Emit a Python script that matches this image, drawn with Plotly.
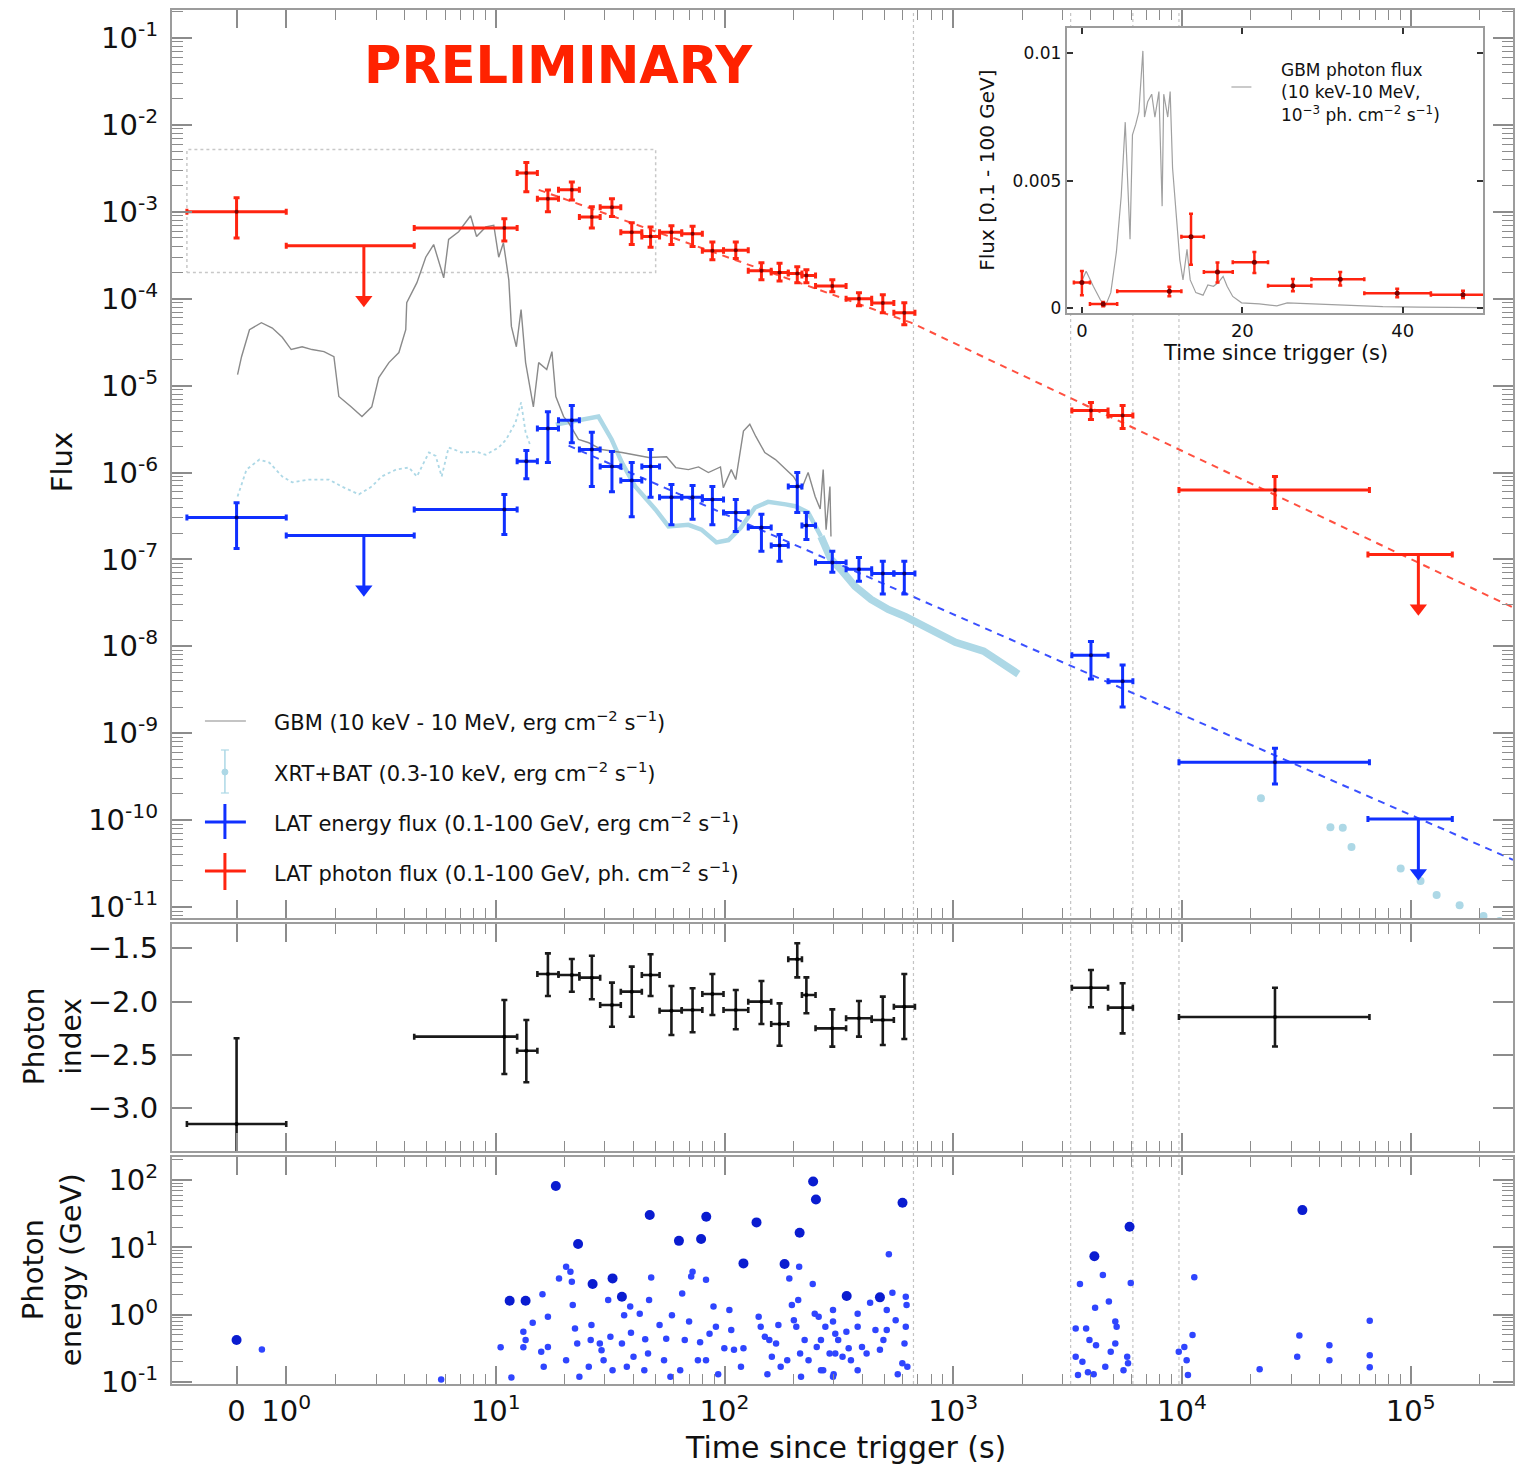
import numpy as np
import plotly.graph_objects as go

# ---------------------------------------------------------------------------
# LAT binned light curve: bin centres and edges (s since trigger)
# ---------------------------------------------------------------------------
lat_t   = [0, 10.9, 13.6, 16.9, 21.5, 26.3, 32.2, 39.3, 47.5, 58.6,
           72.5, 88.5, 112, 145, 174, 208, 228, 296, 387, 492,
           611, 4000, 5500, 25500]
lat_tlo = [-1, 4.4, 12.4, 15.2, 18.8, 23.2, 28.6, 35.2, 43.5, 52,
           65, 80, 99, 127, 160, 190, 218, 250, 340, 440,
           550, 3300, 4750, 9700]
lat_thi = [1, 12.4, 15.2, 18.8, 23.2, 28.6, 35.2, 43.5, 52, 65,
           80, 99, 127, 160, 190, 218, 250, 340, 440, 550,
           680, 4750, 6100, 66000]

# LAT photon flux (0.1-100 GeV, ph cm^-2 s^-1)
ph_flux = [1.0e-3, 6.5e-4, 2.8e-3, 1.41e-3, 1.79e-3, 8.7e-4, 1.13e-3, 5.8e-4, 5.2e-4, 5.8e-4,
           5.6e-4, 3.56e-4, 3.6e-4, 2.1e-4, 2.0e-4, 1.95e-4, 1.85e-4, 1.4e-4, 1.0e-4, 8.9e-5,
           6.9e-5, 5.16e-6, 4.52e-6, 6.3e-7]
ph_lo   = [5.0e-4, 4.6e-4, 1.7e-3, 1.0e-3, 1.37e-3, 6.5e-4, 8.8e-4, 4.2e-4, 3.9e-4, 4.2e-4,
           4.0e-4, 2.8e-4, 2.9e-4, 1.65e-4, 1.6e-4, 1.53e-4, 1.53e-4, 1.2e-4, 8.3e-5, 6.9e-5,
           5.0e-5, 4.07e-6, 3.2e-6, 3.86e-7]
ph_hi   = [1.45e-3, 8.3e-4, 3.7e-3, 1.78e-3, 2.2e-3, 1.14e-3, 1.41e-3, 7.5e-4, 6.7e-4, 6.9e-4,
           6.8e-4, 4.5e-4, 4.5e-4, 2.6e-4, 2.55e-4, 2.33e-4, 2.15e-4, 1.65e-4, 1.17e-4, 1.11e-4,
           9.0e-5, 6.4e-6, 5.9e-6, 9.0e-7]

# LAT energy flux (0.1-100 GeV, erg cm^-2 s^-1)
en_flux = [3.04e-7, 3.76e-7, 1.35e-6, 3.2e-6, 4.0e-6, 1.84e-6, 1.17e-6, 8.1e-7, 1.17e-6, 5.2e-7,
           5.2e-7, 4.9e-7, 3.47e-7, 2.33e-7, 1.45e-7, 6.9e-7, 2.46e-7, 9.2e-8, 7.7e-8, 6.9e-8,
           6.9e-8, 7.9e-9, 3.96e-9, 4.65e-10]
en_lo   = [1.34e-7, 1.94e-7, 8.5e-7, 1.3e-6, 2.2e-6, 6.9e-7, 6.0e-7, 3.1e-7, 5.2e-7, 2.5e-7,
           2.9e-7, 2.5e-7, 2.1e-7, 1.24e-7, 9.5e-8, 3.47e-7, 1.7e-7, 7.1e-8, 5.6e-8, 4.0e-8,
           4.0e-8, 4.2e-9, 2.0e-9, 2.6e-10]
en_hi   = [4.5e-7, 5.6e-7, 1.79e-6, 5.0e-6, 5.9e-6, 2.9e-6, 1.74e-6, 1.3e-6, 1.84e-6, 7.3e-7,
           7.1e-7, 6.9e-7, 4.9e-7, 3.3e-7, 1.94e-7, 1.0e-6, 3.47e-7, 1.24e-7, 1.05e-7, 9.5e-8,
           9.5e-8, 1.14e-8, 6.1e-9, 6.7e-10]

# Photon index per bin
ph_index = [-3.147, -2.328, -2.46, -1.741, -1.75, -1.775, -2.031, -1.906, -1.75, -2.085,
            -2.078, -1.928, -2.078, -2.0, -2.21, -1.603, -1.938, -2.25, -2.156, -2.172,
            -2.047, -1.869, -2.056, -2.144]
idx_lo   = [-3.95, -2.678, -2.756, -1.947, -1.907, -1.978, -2.235, -2.141, -1.947, -2.312,
            -2.287, -2.125, -2.259, -2.21, -2.413, -1.772, -2.109, -2.422, -2.328, -2.406,
            -2.35, -2.053, -2.297, -2.42]
idx_hi   = [-2.343, -1.985, -2.172, -1.547, -1.60, -1.569, -1.822, -1.672, -1.556, -1.853,
            -1.875, -1.741, -1.891, -1.806, -2.016, -1.453, -1.772, -2.072, -1.994, -1.953,
            -1.741, -1.703, -1.828, -1.87]

# Upper-limit bins
ul_t      = [2.65, 108000]
ul_tlo    = [1, 65000]
ul_thi    = [4.4, 152000]
ul_ph     = [4.06e-4, 1.14e-7]
ul_en     = [1.89e-7, 1.03e-10]

# Power-law decay guides (read at their end points)
ph_fit_t = [15.4, 654, 2.8e5]
ph_fit_f = [1.79e-3, 5.3e-5, 2.8e-8]
en_fit_t = [20.8, 2.8e5]
en_fit_f = [2.04e-6, 3.5e-11]

# GBM energy flux (10 keV - 10 MeV)
gbm_t = [0.02, 0.1, 0.26, 0.5, 0.72, 0.92, 1.1, 1.32, 1.52, 1.76,
         1.96, 2.06, 2.33, 2.6, 2.87, 3.08, 3.41, 3.77, 4.04, 4.08,
         4.52, 4.94, 5.35, 5.92, 6.22, 6.88, 7.76, 8.24, 9.04, 9.8,
         10.3, 10.8, 11.4, 11.7, 12.3, 12.9, 13.5, 14.6, 15.4, 16.7,
         17.6, 18.3, 19.8, 20.8, 23.0, 25.5, 29.0, 35.6, 46.6, 55.8,
         61.2, 69.5, 77, 85, 96, 98.8, 107, 112, 121, 129,
         137, 150, 167, 185, 200, 217, 232, 249, 262, 270,
         278, 289, 292]
gbm_f = [1.34e-5, 2.15e-5, 4.4e-5, 5.3e-5, 4.6e-5, 3.6e-5, 2.6e-5, 2.8e-5, 2.6e-5, 2.46e-5,
         2.15e-5, 7.5e-6, 5.7e-6, 4.4e-6, 5.7e-6, 1.24e-5, 1.84e-5, 2.4e-5, 4.4e-5, 9.0e-5,
         1.53e-4, 3.0e-4, 4.2e-4, 1.74e-4, 4.8e-4, 5.9e-4, 9.0e-4, 5.2e-4, 6.7e-4, 7.0e-4,
         3.0e-4, 4.4e-4, 1.65e-4, 4.8e-5, 2.8e-5, 7.5e-5, 1.84e-5, 5.7e-6, 1.84e-5, 1.53e-5,
         2.46e-5, 7.5e-6, 4.4e-6, 3.76e-6, 2.4e-6, 2.2e-6, 1.84e-6, 1.7e-6, 1.49e-6, 1.52e-6,
         1.14e-6, 1.08e-6, 1.16e-6, 1.0e-6, 1.16e-6, 6.7e-7, 1.08e-6, 8.3e-7, 3.0e-6, 3.6e-6,
         2.6e-6, 1.7e-6, 1.41e-6, 1.08e-6, 9.0e-7, 6.4e-7, 1.0e-6, 5.3e-7, 3.8e-7, 1.08e-6,
         2.2e-7, 6.9e-7, 1.84e-7]

# BAT early emission and XRT decay (0.3-10 keV)
bat_t = [0.02, 0.1, 0.2, 0.46, 0.66, 0.92, 1.12, 1.46, 1.86, 2.12,
         2.52, 2.87, 3.17, 3.66, 4.17, 4.52, 5.1, 5.46, 5.8, 6.22,
         7.1, 8.2, 9.04, 10.3, 11.1, 12.2, 12.9, 13.5, 14.2]
bat_f = [5.3e-7, 7.3e-7, 1.08e-6, 1.41e-6, 1.3e-6, 9.0e-7, 7.7e-7, 8.3e-7, 8.3e-7, 6.9e-7,
         5.6e-7, 6.9e-7, 9.0e-7, 1.08e-6, 1.14e-6, 9.0e-7, 1.7e-6, 1.55e-6, 9.0e-7, 1.94e-6,
         1.7e-6, 1.74e-6, 1.6e-6, 1.94e-6, 2.4e-6, 3.76e-6, 6.4e-6, 2.9e-6, 2.0e-6]
xrt_t = [18.3, 28.1, 32.1, 35.6, 40.7, 49.9, 56.9, 69.5, 79.3, 92.2,
         104, 118, 136, 155, 185, 204, 232, 264]
xrt_f = [3.56e-6, 4.4e-6, 2.4e-6, 1.3e-6, 6.9e-7, 3.76e-7, 2.4e-7, 2.5e-7, 2.2e-7, 1.57e-7,
         1.67e-7, 2.33e-7, 3.96e-7, 4.6e-7, 4.3e-7, 4.1e-7, 3.47e-7, 1.84e-7]
xrt_dense_t = [264, 292, 322, 372, 437, 520, 618, 726, 864, 1022, 1358, 1926]
xrt_dense_f = [1.84e-7, 1.0e-7, 7.7e-8, 4.9e-8, 3.47e-8, 2.66e-8, 2.2e-8, 1.79e-8, 1.37e-8,
               1.11e-8, 8.8e-9, 4.8e-9]
xrt_late_t = [22140, 44560, 50460, 55080, 90380, 110400, 129800, 163600, 208000, 244600]
xrt_late_f = [1.79e-10, 8.3e-11, 8.2e-11, 4.9e-11, 2.77e-11, 2.0e-11, 1.38e-11, 1.05e-11, 7.9e-12, 6.9e-12]

# Individual LAT photons: arrival time (s) and energy (GeV)
hi_prob_t = [0, 11.5, 13.5, 18.3, 22.9, 26.5, 32.4, 35.6, 47.1, 63.2,
             79, 83.2, 121, 138, 183, 213, 244, 251, 342, 478,
             600, 4140, 5900, 33600]
hi_prob_e = [0.42, 1.61, 1.61, 81.5, 11.2, 2.85, 3.46, 1.85, 30.2, 12.5,
             13.3, 28.5, 5.78, 23.5, 5.65, 16.5, 95, 51.6, 1.89, 1.81,
             46, 7.4, 20.2, 35.8]
photon_t = [0.51, 5.77, 10.5, 11.7, 13.2, 13.2, 13.5, 14.5, 16.0, 15.8,
            16.2, 16.9, 16.9, 18.9, 20.3, 21.2, 21.5, 21.7, 22.2, 22.7,
            20.3, 23.2, 26.2, 26.0, 25.5, 28.5, 29.0, 29.6, 31.0, 31.7,
            32.4, 35.6, 37.4, 38.7, 39.0, 36.4, 40.0, 42.6, 45.0, 46.3,
            47.8, 46.8, 44.6, 52, 55.6, 54.4, 58.9, 58, 65.3, 64,
            67, 70, 72.5, 71.5, 76.5, 78.2, 83, 83, 86, 89.5,
            91.7, 93.8, 99.8, 105, 107, 110, 118, 121, 141, 144,
            150, 157, 161, 154, 168, 172, 176, 188, 192, 197,
            201, 206, 210, 212, 214, 216, 224, 233, 243, 248,
            253, 264, 276, 288, 300, 314, 328, 258, 264, 270,
            298, 298, 305, 305, 298, 341, 349, 357, 382, 382,
            399, 382, 418, 433, 457, 478, 495, 512, 512, 523,
            542, 560, 572, 599, 612, 620, 620, 630, 625, 3430,
            3580, 3430, 3670, 3510, 3810, 3940, 3880, 4110, 4170, 4210,
            4510, 4790, 4620, 4880, 5110, 5180, 5110, 5550, 5760, 5810,
            5970, 9680, 10240, 10480, 10620, 11120, 11320, 21850, 31900, 32600,
            44100, 44100, 66200, 66200, 66200]
photon_e = [0.305, 0.109, 0.327, 0.117, 0.557, 0.327, 0.42, 0.76, 2.02, 0.281,
            0.168, 0.93, 0.33, 3.46, 5.15, 4.33, 3.08, 1.39, 0.625, 0.374,
            0.211, 0.12, 0.70, 0.42, 0.168, 0.374, 0.296, 0.211, 1.65, 0.47,
            0.149, 0.374, 0.168, 1.32, 0.54, 0.98, 0.237, 1.03, 0.43, 0.266,
            3.58, 1.65, 0.149, 0.70, 0.44, 0.211, 0.98, 0.12, 2.07, 0.149,
            0.42, 0.79, 4.33, 3.7, 0.211, 0.39, 3.3, 0.211, 0.52, 1.32,
            0.66, 0.13, 0.316, 1.17, 0.59, 0.30, 0.168, 0.316, 0.93, 0.66,
            0.47, 0.42, 0.237, 0.13, 0.374, 0.70, 0.168, 0.211, 3.46, 1.39,
            0.83, 0.66, 1.65, 5.15, 0.266, 0.12, 0.42, 0.211, 2.85, 1.03,
            0.33, 0.149, 0.66, 0.266, 0.13, 0.42, 0.237, 0.93, 0.42, 0.149,
            1.17, 0.79, 0.52, 0.266, 0.12, 0.557, 0.316, 0.211, 1.03, 0.66,
            0.33, 0.149, 0.266, 1.5, 0.59, 0.30, 0.42, 1.17, 0.59, 7.9,
            2.12, 0.83, 0.13, 0.19, 0.374, 1.85, 0.66, 0.168, 1.39, 0.625,
            2.85, 0.237, 0.20, 0.127, 0.625, 0.42, 0.14, 0.13, 1.27, 0.35,
            3.9, 1.57, 0.168, 0.281, 0.79, 0.66, 0.374, 0.149, 0.237, 0.19,
            2.95, 0.281, 0.33, 0.211, 0.127, 0.5, 3.6, 0.155, 0.237, 0.49,
            0.21, 0.35, 0.81, 0.25, 0.165]

# Inset: GBM photon flux (10^-3 ph cm^-2 s^-1) over the prompt phase
ins_gbm_t = [-0.1, 0.53, 1.42, 2.3, 2.9, 3.6, 4.3, 4.9, 5.4, 5.6,
             6.0, 6.3, 6.7, 7.1, 7.6, 7.8, 8.2, 8.7, 9.1, 9.6,
             10.0, 10.2, 10.7, 11.0, 11.3, 11.8, 12.2, 12.6, 13.1, 13.5,
             14.2, 15.1, 15.7, 16.4, 17.0, 17.6, 18.1, 18.8, 19.9, 22.1,
             24.3, 25.6, 28.7, 33.1, 37.5, 41.9, 49.9]
ins_gbm_f = [0.0010, 0.00144, 0.00085, 0.00032, 0.00005, 0.0006, 0.0022, 0.0044, 0.0073, 0.0055,
             0.0027, 0.0068, 0.0072, 0.0077, 0.0101, 0.0075, 0.0081, 0.0084, 0.0075, 0.0085,
             0.0040, 0.0084, 0.0075, 0.0085, 0.0055, 0.0035, 0.0019, 0.0011, 0.0023, 0.0011,
             0.0006, 0.0005, 0.0009, 0.00085, 0.0010, 0.00124, 0.00085, 0.00045, 0.0002, 0.00016,
             0.00008, 0.0002, 0.00016, 0.0001, 0.00005, 0.00003, 0.00001]
# Inset: LAT photon flux in the 1-4.4 s bin on a linear scale
ins_ul_t, ins_ul_f, ins_ul_err = [2.65], [0.00015], [0.00008]

# Good-time-interval boundaries (s)
gti_edges = [670, 3260, 6100, 9700]

# Zoom box shown in the inset
zoom_t = [-1, 50]
zoom_f = [2.0e-4, 5.2e-3]

# ---------------------------------------------------------------------------
# Time axis: linear within |t| <= 2 s, logarithmic beyond (symmetric log)
# ---------------------------------------------------------------------------
LN10 = np.log(10.0)
LINTHRESH = 2.0


def symlog(t):
    t = np.asarray(t, dtype=float)
    a = np.abs(t)
    lin = a / (LINTHRESH * LN10)
    lg = 1.0 / LN10 + np.log10(np.maximum(a, LINTHRESH) / LINTHRESH)
    return np.sign(t) * np.where(a <= LINTHRESH, lin, lg)


T_MIN, T_MAX = -1.3, 2.8e5
X_RANGE = [float(symlog(T_MIN)), float(symlog(T_MAX))]
major_t = [0, 1, 10, 100, 1e3, 1e4, 1e5]
minor_t = [k * 10 ** d for d in range(0, 6) for k in range(2, 10) if k * 10 ** d < T_MAX]
x_ticktext = ["0", "10<sup>0</sup>", "10<sup>1</sup>", "10<sup>2</sup>",
              "10<sup>3</sup>", "10<sup>4</sup>", "10<sup>5</sup>"]

# ---------------------------------------------------------------------------
# Page geometry
# ---------------------------------------------------------------------------
W, H = 1516, 1465
ML, MR, MT, MB = 172, 1, 10, 81
PW, PH = W - ML - MR, H - MT - MB


def xp(px):
    return (px - ML) / PW


def yp(py):
    return (H - MB - py) / PH


RED = "#ff2410"
RED_DK = "#7a0000"
BLUE = "#1030ff"
BLUE_DK = "#000070"
LIGHTBLUE = "#add8e6"
GREY = "#8a8a8a"
FRAME = "#9c9c9c"
TICK = "#8c8c8c"
FONT = "DejaVu Sans"

fig = go.Figure()


def xerr(t, tlo, thi):
    u = symlog(t)
    return dict(type="data", symmetric=False,
                array=symlog(thi) - u, arrayminus=u - symlog(tlo))


def cross_trace(t, y, ylo, yhi, tlo, thi, color, center, xa, ya, thick=2.6):
    y = np.asarray(y, float)
    ex = xerr(t, tlo, thi)
    ex.update(thickness=thick, width=3, color=color)
    ey = dict(type="data", symmetric=False, array=np.asarray(yhi) - y,
              arrayminus=y - np.asarray(ylo), thickness=thick, width=3, color=color)
    return go.Scatter(x=symlog(t), y=y, mode="markers", xaxis=xa, yaxis=ya,
                      marker=dict(size=4, color=center), error_x=ex, error_y=ey,
                      hoverinfo="skip", showlegend=False)


def upper_limits(t, ul, tlo, thi, color, xa, ya):
    u = symlog(t)
    ex = xerr(t, tlo, thi)
    ex.update(thickness=3, width=3, color=color)
    bars = go.Scatter(x=u, y=ul, mode="markers", xaxis=xa, yaxis=ya,
                      marker=dict(size=1, color=color), error_x=ex,
                      hoverinfo="skip", showlegend=False)
    tip = np.asarray(ul) * 10 ** -0.62
    sx, sy = [], []
    for ui, top, bot in zip(u, ul, tip):
        sx += [ui, ui, None]
        sy += [top, bot, None]
    stem = go.Scatter(x=sx, y=sy, mode="lines", xaxis=xa, yaxis=ya,
                      line=dict(color=color, width=3), hoverinfo="skip", showlegend=False)
    head = go.Scatter(x=u, y=tip, mode="markers", xaxis=xa, yaxis=ya,
                      marker=dict(symbol="triangle-down", size=15, color=color),
                      hoverinfo="skip", showlegend=False)
    return [bars, stem, head]


# ---------------- flux panel ----------------
fig.add_trace(go.Scatter(x=symlog([zoom_t[0], zoom_t[1], zoom_t[1], zoom_t[0], zoom_t[0]]),
                         y=[zoom_f[0], zoom_f[0], zoom_f[1], zoom_f[1], zoom_f[0]],
                         mode="lines", line=dict(color="#c8c8c8", width=1.5, dash="dot"),
                         xaxis="x", yaxis="y", hoverinfo="skip", showlegend=False))
fig.add_trace(go.Scatter(x=symlog(bat_t), y=bat_f, mode="lines",
                         line=dict(color=LIGHTBLUE, width=1.8, dash="dot"),
                         xaxis="x", yaxis="y", hoverinfo="skip", showlegend=False))
fig.add_trace(go.Scatter(x=symlog(xrt_t), y=xrt_f, mode="lines",
                         line=dict(color=LIGHTBLUE, width=4.5),
                         xaxis="x", yaxis="y", hoverinfo="skip", showlegend=False))
fig.add_trace(go.Scatter(x=symlog(xrt_dense_t), y=xrt_dense_f, mode="lines",
                         line=dict(color=LIGHTBLUE, width=7.5),
                         xaxis="x", yaxis="y", hoverinfo="skip", showlegend=False))
fig.add_trace(go.Scatter(x=symlog(xrt_late_t), y=xrt_late_f, mode="markers",
                         marker=dict(color=LIGHTBLUE, size=8),
                         xaxis="x", yaxis="y", hoverinfo="skip", showlegend=False))
fig.add_trace(go.Scatter(x=symlog(gbm_t), y=gbm_f, mode="lines",
                         line=dict(color=GREY, width=1.4),
                         xaxis="x", yaxis="y", hoverinfo="skip", showlegend=False))
fig.add_trace(go.Scatter(x=symlog(ph_fit_t), y=ph_fit_f, mode="lines",
                         line=dict(color="#ff5040", width=2, dash="7px,6px"),
                         xaxis="x", yaxis="y", hoverinfo="skip", showlegend=False))
fig.add_trace(go.Scatter(x=symlog(en_fit_t), y=en_fit_f, mode="lines",
                         line=dict(color="#3a50ff", width=2, dash="7px,6px"),
                         xaxis="x", yaxis="y", hoverinfo="skip", showlegend=False))
fig.add_trace(cross_trace(lat_t, en_flux, en_lo, en_hi, lat_tlo, lat_thi, BLUE, BLUE_DK, "x", "y", 3))
fig.add_trace(cross_trace(lat_t, ph_flux, ph_lo, ph_hi, lat_tlo, lat_thi, RED, RED_DK, "x", "y", 3))
for tr in upper_limits(ul_t, ul_en, ul_tlo, ul_thi, BLUE, "x", "y"):
    fig.add_trace(tr)
for tr in upper_limits(ul_t, ul_ph, ul_tlo, ul_thi, RED, "x", "y"):
    fig.add_trace(tr)

# ---------------- photon index panel ----------------
fig.add_trace(cross_trace(lat_t, ph_index, idx_lo, idx_hi, lat_tlo, lat_thi,
                          "#1a1a1a", "#000000", "x2", "y2", 2.6))

# ---------------- photon energy panel ----------------
fig.add_trace(go.Scatter(x=symlog(photon_t), y=photon_e, mode="markers",
                         marker=dict(size=6.5, color="#2f45ff"),
                         xaxis="x3", yaxis="y3", hoverinfo="skip", showlegend=False))
fig.add_trace(go.Scatter(x=symlog(hi_prob_t), y=hi_prob_e, mode="markers",
                         marker=dict(size=10, color="#0a1cd0"),
                         xaxis="x3", yaxis="y3", hoverinfo="skip", showlegend=False))

# ---------------- inset: prompt phase on linear axes ----------------
fig.add_trace(go.Scatter(x=ins_gbm_t, y=ins_gbm_f, mode="lines",
                         line=dict(color="#a0a0a0", width=1.2),
                         xaxis="x4", yaxis="y4", hoverinfo="skip", showlegend=False))
ins_sel = [i for i, t in enumerate(lat_t) if t <= 50]
ins_t = [lat_t[i] for i in ins_sel]
ins_f = np.array([ph_flux[i] for i in ins_sel])
fig.add_trace(go.Scatter(
    x=ins_t + ins_ul_t, y=list(ins_f) + ins_ul_f, mode="markers",
    xaxis="x4", yaxis="y4", marker=dict(size=5, color=RED_DK),
    error_x=dict(type="data", symmetric=False,
                 array=[lat_thi[i] - lat_t[i] for i in ins_sel] + [ul_thi[0] - ul_t[0]],
                 arrayminus=[lat_t[i] - lat_tlo[i] for i in ins_sel] + [ul_t[0] - ul_tlo[0]],
                 thickness=2.5, width=2, color=RED),
    error_y=dict(type="data", symmetric=False,
                 array=[ph_hi[i] - ph_flux[i] for i in ins_sel] + ins_ul_err,
                 arrayminus=[ph_flux[i] - ph_lo[i] for i in ins_sel] + ins_ul_err,
                 thickness=2.5, width=2, color=RED),
    hoverinfo="skip", showlegend=False))

# ---------------------------------------------------------------------------
# Axes
# ---------------------------------------------------------------------------
tickfont = dict(family=FONT, size=29, color="#111")
x_common = dict(range=X_RANGE, showline=True, linecolor=FRAME, linewidth=2,
                mirror="allticks", ticks="inside", ticklen=18, tickwidth=1.5,
                tickcolor=TICK, tickmode="array", tickvals=symlog(major_t),
                showgrid=False, zeroline=False,
                minor=dict(tickmode="array", tickvals=symlog(minor_t), ticks="inside",
                           ticklen=10, tickwidth=1.2, tickcolor=TICK, showgrid=False))
y_common = dict(showline=True, linecolor=FRAME, linewidth=2, mirror="allticks",
                ticks="inside", ticklen=20, tickwidth=1.5, tickcolor=TICK,
                showgrid=False, zeroline=False, tickfont=tickfont, tickmode="array",
                ticklabelstandoff=6)

flux_dec = list(range(-1, -12, -1))
flux_minor = [k * 10.0 ** d for d in range(-12, 0) for k in range(2, 10)]
en_minor = [k * 10.0 ** d for d in range(-2, 3) for k in range(2, 10)]

layout = dict(
    width=W, height=H, margin=dict(l=ML, r=MR, t=MT, b=MB),
    paper_bgcolor="white", plot_bgcolor="white", showlegend=False,
    font=dict(family=FONT, color="#111"),
    xaxis=dict(x_common, domain=[0, 1], anchor="y", showticklabels=False),
    xaxis2=dict(x_common, domain=[0, 1], anchor="y2", showticklabels=False),
    xaxis3=dict(x_common, domain=[0, 1], anchor="y3", showticklabels=True,
                ticktext=x_ticktext, tickfont=tickfont),
    yaxis=dict(y_common, type="log", domain=[yp(918), 1.0], anchor="x",
               range=[-11.126, -0.678],
               tickvals=[10.0 ** d for d in flux_dec],
               ticktext=["10<sup>%d</sup>" % d for d in flux_dec],
               minor=dict(tickmode="array", tickvals=flux_minor, ticks="inside",
                          ticklen=11, tickwidth=1.2, tickcolor=TICK)),
    yaxis2=dict(y_common, domain=[yp(1151), yp(924)], anchor="x2",
                range=[-3.40, -1.272], tickvals=[-1.5, -2.0, -2.5, -3.0],
                ticktext=["\u22121.5", "\u22122.0", "\u22122.5", "\u22123.0"]),
    yaxis3=dict(y_common, type="log", domain=[0, yp(1157)], anchor="x3",
                range=[-1.03, 2.343], tickvals=[0.1, 1, 10, 100],
                ticktext=["10<sup>-1</sup>", "10<sup>0</sup>", "10<sup>1</sup>", "10<sup>2</sup>"],
                minor=dict(tickmode="array", tickvals=en_minor, ticks="inside",
                           ticklen=11, tickwidth=1.2, tickcolor=TICK)),
    xaxis4=dict(domain=[xp(1068), xp(1485)], anchor="y4", range=[-1.9, 50],
                showline=True, linecolor=FRAME, linewidth=2, mirror="allticks",
                ticks="inside", ticklen=6, tickwidth=2, tickcolor="#333",
                tickmode="array", tickvals=[0, 20, 40], showgrid=False, zeroline=False,
                tickfont=dict(family=FONT, size=18, color="#111")),
    yaxis4=dict(domain=[yp(313), yp(28)], anchor="x4", range=[-0.0002, 0.011],
                showline=True, linecolor=FRAME, linewidth=2, mirror="allticks",
                ticks="inside", ticklen=6, tickwidth=2, tickcolor="#333",
                tickmode="array", tickvals=[0, 0.005, 0.01],
                ticktext=["0", "0.005", "0.01"], showgrid=False, zeroline=False,
                tickfont=dict(family=FONT, size=17, color="#111")),
)
fig.update_layout(**layout)

# ---------------------------------------------------------------------------
# GTI boundaries (dotted), kept clear of the inset
# ---------------------------------------------------------------------------
ins_x0 = X_RANGE[0] + xp(1068) * (X_RANGE[1] - X_RANGE[0])
ins_x1 = X_RANGE[0] + xp(1485) * (X_RANGE[1] - X_RANGE[0])
for te in gti_edges:
    u = float(symlog(te))
    segs = [(0, 1)]
    if ins_x0 <= u <= ins_x1:
        segs = [(0, yp(313)), (yp(28), 1)]
    for y0, y1 in segs:
        fig.add_shape(type="line", xref="x", yref="paper", x0=u, x1=u, y0=y0, y1=y1,
                      line=dict(color="#c4c4c4", width=1.2, dash="dot"), layer="below")

# ---------------------------------------------------------------------------
# Legend (drawn glyphs + text)
# ---------------------------------------------------------------------------
def seg(x0, y0, x1, y1, color, width):
    fig.add_shape(type="line", xref="paper", yref="paper",
                  x0=xp(x0), y0=yp(y0), x1=xp(x1), y1=yp(y1),
                  line=dict(color=color, width=width))


seg(205, 721, 246, 721, "#b0b0b0", 1.5)
seg(225, 750, 225, 793, LIGHTBLUE, 1.5)
seg(221, 750, 229, 750, LIGHTBLUE, 1.2)
seg(221, 793, 229, 793, LIGHTBLUE, 1.2)
fig.add_shape(type="circle", xref="paper", yref="paper",
              x0=xp(222), x1=xp(228), y0=yp(775), y1=yp(769),
              line=dict(color=LIGHTBLUE, width=1), fillcolor=LIGHTBLUE)
seg(205, 822, 246, 822, BLUE, 3)
seg(225, 804, 225, 839, BLUE, 3)
seg(205, 871, 246, 871, RED, 3)
seg(225, 853, 225, 890, RED, 3)

legend_text = [
    (721, "GBM (10 keV - 10 MeV, erg cm<sup>\u22122</sup> s<sup>\u22121</sup>)"),
    (772, "XRT+BAT (0.3-10 keV, erg cm<sup>\u22122</sup> s<sup>\u22121</sup>)"),
    (822, "LAT energy flux (0.1-100 GeV, erg cm<sup>\u22122</sup> s<sup>\u22121</sup>)"),
    (872, "LAT photon flux (0.1-100 GeV, ph. cm<sup>\u22122</sup> s<sup>\u22121</sup>)"),
]
annotations = []
for py, txt in legend_text:
    annotations.append(dict(xref="paper", yref="paper", x=xp(272), y=yp(py),
                            xanchor="left", yanchor="middle", showarrow=False,
                            text=txt, font=dict(family=FONT, size=21, color="#111")))

# inset legend
seg(1233, 87, 1253, 87, "#b8b8b8", 1.5)
for py, txt in [(70, "GBM photon flux"), (92, "(10 keV-10 MeV,"),
                (114, "10<sup>\u22123</sup> ph. cm<sup>\u22122</sup> s<sup>\u22121</sup>)")]:
    annotations.append(dict(xref="paper", yref="paper", x=xp(1281), y=yp(py),
                            xanchor="left", yanchor="middle", showarrow=False,
                            text=txt, font=dict(family=FONT, size=17, color="#111")))

# titles
annotations += [
    dict(xref="paper", yref="paper", x=xp(559), y=yp(65), showarrow=False,
         xanchor="center", yanchor="middle", text="PRELIMINARY",
         font=dict(family="DejaVu Sans", size=51, color="#ff2200", weight="bold")),
    dict(xref="paper", yref="paper", x=xp(62), y=yp(462), showarrow=False,
         textangle=-90, xanchor="center", yanchor="middle", text="Flux",
         font=dict(family=FONT, size=29, color="#111")),
    dict(xref="paper", yref="paper", x=xp(52), y=yp(1036), showarrow=False,
         textangle=-90, xanchor="center", yanchor="middle", text="Photon<br>index",
         font=dict(family=FONT, size=28, color="#111")),
    dict(xref="paper", yref="paper", x=xp(52), y=yp(1270), showarrow=False,
         textangle=-90, xanchor="center", yanchor="middle", text="Photon<br>energy (GeV)",
         font=dict(family=FONT, size=29, color="#111")),
    dict(xref="paper", yref="paper", x=xp(847), y=yp(1447), showarrow=False,
         xanchor="center", yanchor="middle", text="Time since trigger (s)",
         font=dict(family=FONT, size=30, color="#111")),
    dict(xref="paper", yref="paper", x=xp(988), y=yp(170), showarrow=False,
         textangle=-90, xanchor="center", yanchor="middle", text="Flux [0.1 - 100 GeV]",
         font=dict(family=FONT, size=20, color="#111")),
    dict(xref="paper", yref="paper", x=xp(1277), y=yp(353), showarrow=False,
         xanchor="center", yanchor="middle", text="Time since trigger (s)",
         font=dict(family=FONT, size=21, color="#111")),
]
fig.update_layout(annotations=annotations)

fig.write_html("out.html")
